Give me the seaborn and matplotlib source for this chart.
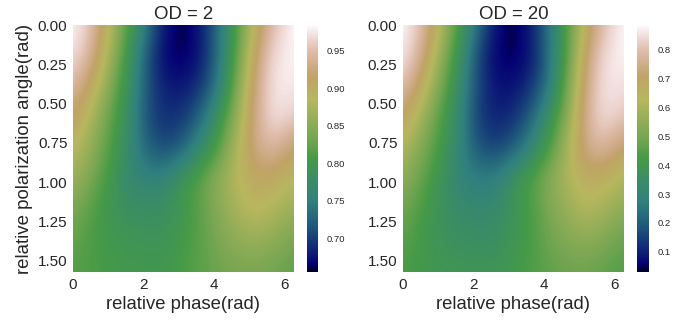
import numpy as np
import matplotlib
matplotlib.use("Agg")
import matplotlib.pyplot as plt
import seaborn as sns

# rows: polarization angle 0 .. pi/2, columns: phase 0 .. 2pi
od2 = [
    [.984, .955, .885, .815, .740, .675, .655, .680, .740, .820, .900, .955, .984],
    [.972, .940, .870, .795, .715, .665, .657, .678, .740, .830, .925, .975, .980],
    [.948, .905, .845, .785, .715, .680, .678, .695, .750, .850, .935, .978, .975],
    [.915, .875, .825, .775, .710, .690, .695, .730, .795, .865, .940, .975, .960],
    [.890, .855, .815, .770, .725, .705, .725, .770, .820, .885, .935, .945, .910],
    [.865, .835, .800, .765, .755, .760, .795, .825, .860, .885, .910, .900, .885],
    [.840, .815, .795, .780, .780, .780, .800, .820, .850, .875, .890, .875, .860],
    [.825, .810, .800, .795, .790, .790, .805, .820, .840, .855, .860, .850, .835],
    [.815, .810, .805, .800, .800, .800, .810, .820, .830, .835, .835, .830, .820],
]
od20 = [
    [.885, .81, .63, .44, .24, .08, .03, .10, .25, .46, .67, .81, .885],
    [.87, .76, .57, .38, .17, .055, .035, .085, .24, .47, .73, .86, .875],
    [.80, .68, .51, .35, .17, .08, .08, .13, .26, .51, .76, .865, .85],
    [.71, .58, .45, .32, .15, .10, .12, .21, .37, .55, .78, .855, .81],
    [.61, .52, .42, .31, .19, .15, .20, .30, .44, .61, .76, .78, .69],
    [.55, .47, .38, .30, .27, .28, .37, .45, .54, .61, .67, .65, .60],
    [.49, .43, .37, .33, .32, .32, .38, .43, .51, .57, .62, .58, .54],
    [.46, .41, .38, .36, .35, .35, .39, .43, .49, .52, .54, .51, .47],
    [.43, .41, .40, .39, .39, .39, .41, .44, .46, .48, .48, .46, .44],
]
titles = ["OD = 2", "OD = 20"]
xticks = [0, 2, 4, 6]
yticks = [0.00, 0.25, 0.50, 0.75, 1.00, 1.25, 1.50]
cbar_ticks_2 = [0.70, 0.75, 0.80, 0.85, 0.90, 0.95]
cbar_ticks_20 = [0.1, 0.2, 0.3, 0.4, 0.5, 0.6, 0.7, 0.8]

sns.set_style("white")
plt.rcParams["font.family"] = ["Liberation Sans", "DejaVu Sans"]

W, H = 687, 322
fig = plt.figure(figsize=(W / 100, H / 100), dpi=100)


def box(x0, x1, y0=25, y1=272):
    return [x0 / W, 1 - y1 / H, (x1 - x0) / W, (y1 - y0) / H]


def panel(values, title, x0, x1, c0, c1, cticks, cfmt, ylabel):
    ax = fig.add_axes(box(x0, x1))
    cax = fig.add_axes(box(c0, c1))
    grid = np.array(values)
    vmin, vmax = grid.min(), grid.max()
    sns.heatmap(grid, ax=ax, cbar_ax=cax, cmap="gist_earth", vmin=vmin, vmax=vmax,
                xticklabels=False, yticklabels=False,
                cbar_kws={"ticks": cticks, "format": cfmt})
    # smooth version of the same grid on top, heatmap only gives cells
    ax.collections[0].set_visible(False)
    dx = 2 * np.pi / (grid.shape[1] - 1)
    dy = (np.pi / 2) / (grid.shape[0] - 1)
    ax.imshow(grid, cmap="gist_earth", vmin=vmin, vmax=vmax, aspect="auto",
              interpolation="bicubic",
              extent=(-dx / 2, 2 * np.pi + dx / 2, np.pi / 2 + dy / 2, -dy / 2))
    ax.set_xlim(0, 2 * np.pi)
    ax.set_ylim(np.pi / 2, 0)
    ax.set_xticks(xticks, [str(t) for t in xticks])
    ax.set_yticks(yticks, ["%.2f" % t for t in yticks])
    ax.tick_params(labelsize=11, length=0, pad=4, colors=".15", rotation=0)
    ax.set_title(title, fontsize=13.4, color=".15", pad=4)
    ax.set_xlabel("relative phase(rad)", fontsize=13.3, color=".15", labelpad=3)
    if ylabel:
        ax.set_ylabel("relative polarization angle(rad)", fontsize=13.4, color=".15", labelpad=3.5)
    cax.tick_params(labelsize=6.8, length=0, pad=6, colors=".15")


panel(od2, titles[0], 73, 294, 307, 318, cbar_ticks_2, "%.2f", True)
panel(od20, titles[1], 403, 624, 637, 649, cbar_ticks_20, "%.1f", False)

fig.savefig("out.png", dpi=100)
